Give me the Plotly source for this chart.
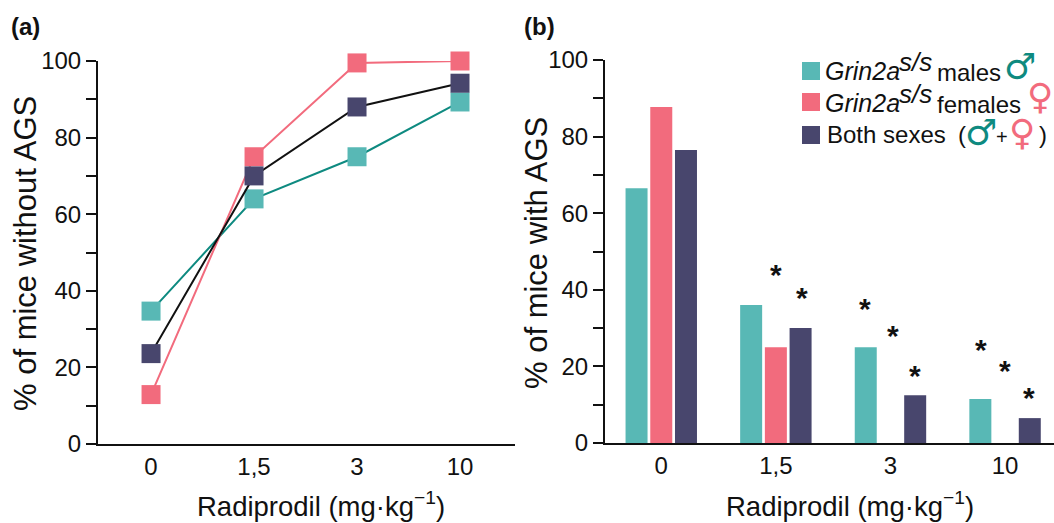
import plotly.graph_objects as go

W, H = 1054, 523
doses = ["0", "1,5", "3", "10"]
positions = [0, 1, 2, 3]
no_ags_male = [34.7, 64, 75, 89.3]
no_ags_female = [12.9, 75, 99.5, 100]
no_ags_both = [23.6, 70, 88, 94.2]
ags_male = [66.5, 36, 25, 11.5]
ags_female = [87.7, 25, 0, 0]
ags_both = [76.5, 30, 12.5, 6.5]
y_ticks = [0, 10, 20, 30, 40, 50, 60, 70, 80, 90, 100]
y_labels = ["0", "", "20", "", "40", "", "60", "", "80", "", "100"]
stars_x = [1.0, 1.23, 1.78, 2.02, 2.21, 2.79, 3.0, 3.21]
stars_y = [44, 38, 35, 28, 17.5, 24.5, 19, 12]

TEAL, PINK, NAVY = "#58b8b5", "#f26b7d", "#48466d"
TEAL_LINE, PINK_LINE, NAVY_LINE = "#0e8a80", "#f26b7d", "#111111"
FONT = "Liberation Sans, Arial, sans-serif"

fig = go.Figure()
for name, vals, col, lcol in [
    ("Grin2a s/s males", no_ags_male, TEAL, TEAL_LINE),
    ("Grin2a s/s females", no_ags_female, PINK, PINK_LINE),
    ("Both sexes", no_ags_both, NAVY, NAVY_LINE),
]:
    fig.add_trace(go.Scatter(x=positions, y=vals, mode="lines+markers", name=name,
                             line=dict(color=lcol, width=2),
                             marker=dict(symbol="square", size=19, color=col),
                             cliponaxis=False, showlegend=False, xaxis="x", yaxis="y"))
for name, vals, col in [
    ("Grin2a s/s males", ags_male, TEAL),
    ("Grin2a s/s females", ags_female, PINK),
    ("Both sexes", ags_both, NAVY),
]:
    fig.add_trace(go.Bar(x=positions, y=vals, name=name, marker=dict(color=col, line_width=0),
                         showlegend=False, xaxis="x2", yaxis="y2"))

def yaxis(anchor, top, bottom):
    return dict(domain=[1 - bottom / H, 1 - top / H], range=[0, 100], anchor=anchor,
                tickmode="array", tickvals=y_ticks, ticktext=y_labels, ticks="outside",
                ticklen=10, tickwidth=2, tickcolor="#111", showline=True, linewidth=2,
                linecolor="#111", showgrid=False, zeroline=False,
                tickfont=dict(size=24, color="#111"))

def xaxis(anchor, left, right, lo, hi):
    return dict(domain=[left / W, right / W], range=[lo, hi], anchor=anchor,
                tickmode="array", tickvals=positions, ticktext=doses, ticks="",
                showline=True, linewidth=2, linecolor="#111", showgrid=False, zeroline=False,
                tickfont=dict(size=24, color="#111"))

fig.update_layout(
    width=W, height=H, margin=dict(l=0, r=0, t=0, b=0, autoexpand=False),
    paper_bgcolor="white",
    plot_bgcolor="white", font=dict(family=FONT, color="#111"),
    barmode="group", bargap=0.353, bargroupgap=0.11, showlegend=False,
    xaxis=xaxis("y", 98, 515, -0.515, 3.534),
    yaxis=yaxis("x", 61, 444),
    xaxis2=xaxis("y2", 605, 1054, -0.491, 3.427),
    yaxis2=yaxis("x2", 60, 443),
)

def paper(text, x, y, size=24, color="#111", anchor="left", **kw):
    angle = kw.pop("textangle", 0)
    fig.add_annotation(text=text, x=x / W, y=1 - y / H, xref="paper", yref="paper",
                       xanchor=anchor, yanchor="middle", showarrow=False, textangle=angle,
                       font=dict(size=size, color=color, **kw))

paper("<b>(a)</b>", 9, 27, 24)
paper("<b>(b)</b>", 522, 27, 24)
paper("% of mice without AGS", 25, 254, 31, anchor="center", textangle=-90)
paper("% of mice with AGS", 537, 253, 31, anchor="center", textangle=-90)
paper("Radiprodil (mg·kg<sup>−1</sup>)", 321, 504, 27.5, anchor="center")
paper("Radiprodil (mg·kg<sup>−1</sup>)", 850, 504, 27.5, anchor="center")
for sx, sy in zip(stars_x, stars_y):
    fig.add_annotation(text="<b>*</b>", x=sx, y=sy, xref="x2", yref="y2", showarrow=False,
                       font=dict(size=30, color="#111"))

for y, col in [(71, TEAL), (102, PINK), (135, NAVY)]:
    fig.add_shape(type="rect", xref="paper", yref="paper", x0=802 / W, x1=820 / W,
                  y0=1 - (y - 9) / H, y1=1 - (y + 9) / H, fillcolor=col, line_width=0)
paper("<i>Grin2a</i>", 823, 71, 25)
paper("<i>s/s</i>", 897, 62, 26)
paper("males", 935, 73)
paper("<i>Grin2a</i>", 823, 103, 25)
paper("<i>s/s</i>", 897, 94, 26)
paper("females", 935, 104, 24)
paper("Both sexes", 825, 135)
paper("(", 956, 135)
paper("<b>♂</b>", 1002, 67, 36, "#0e8a80", family="DejaVu Sans")
paper("<b>♀</b>", 1025, 96, 36, PINK, family="DejaVu Sans")
paper("<b>♂</b>", 963, 132, 36, "#0e8a80", family="DejaVu Sans")
paper("+", 994, 137, 20)
paper("<b>♀</b>", 1007, 132, 36, PINK, family="DejaVu Sans")
paper(")", 1037, 135)

fig.write_html("out.html", post_script="document.body.style.margin='0';",
               config=dict(displayModeBar=False))
